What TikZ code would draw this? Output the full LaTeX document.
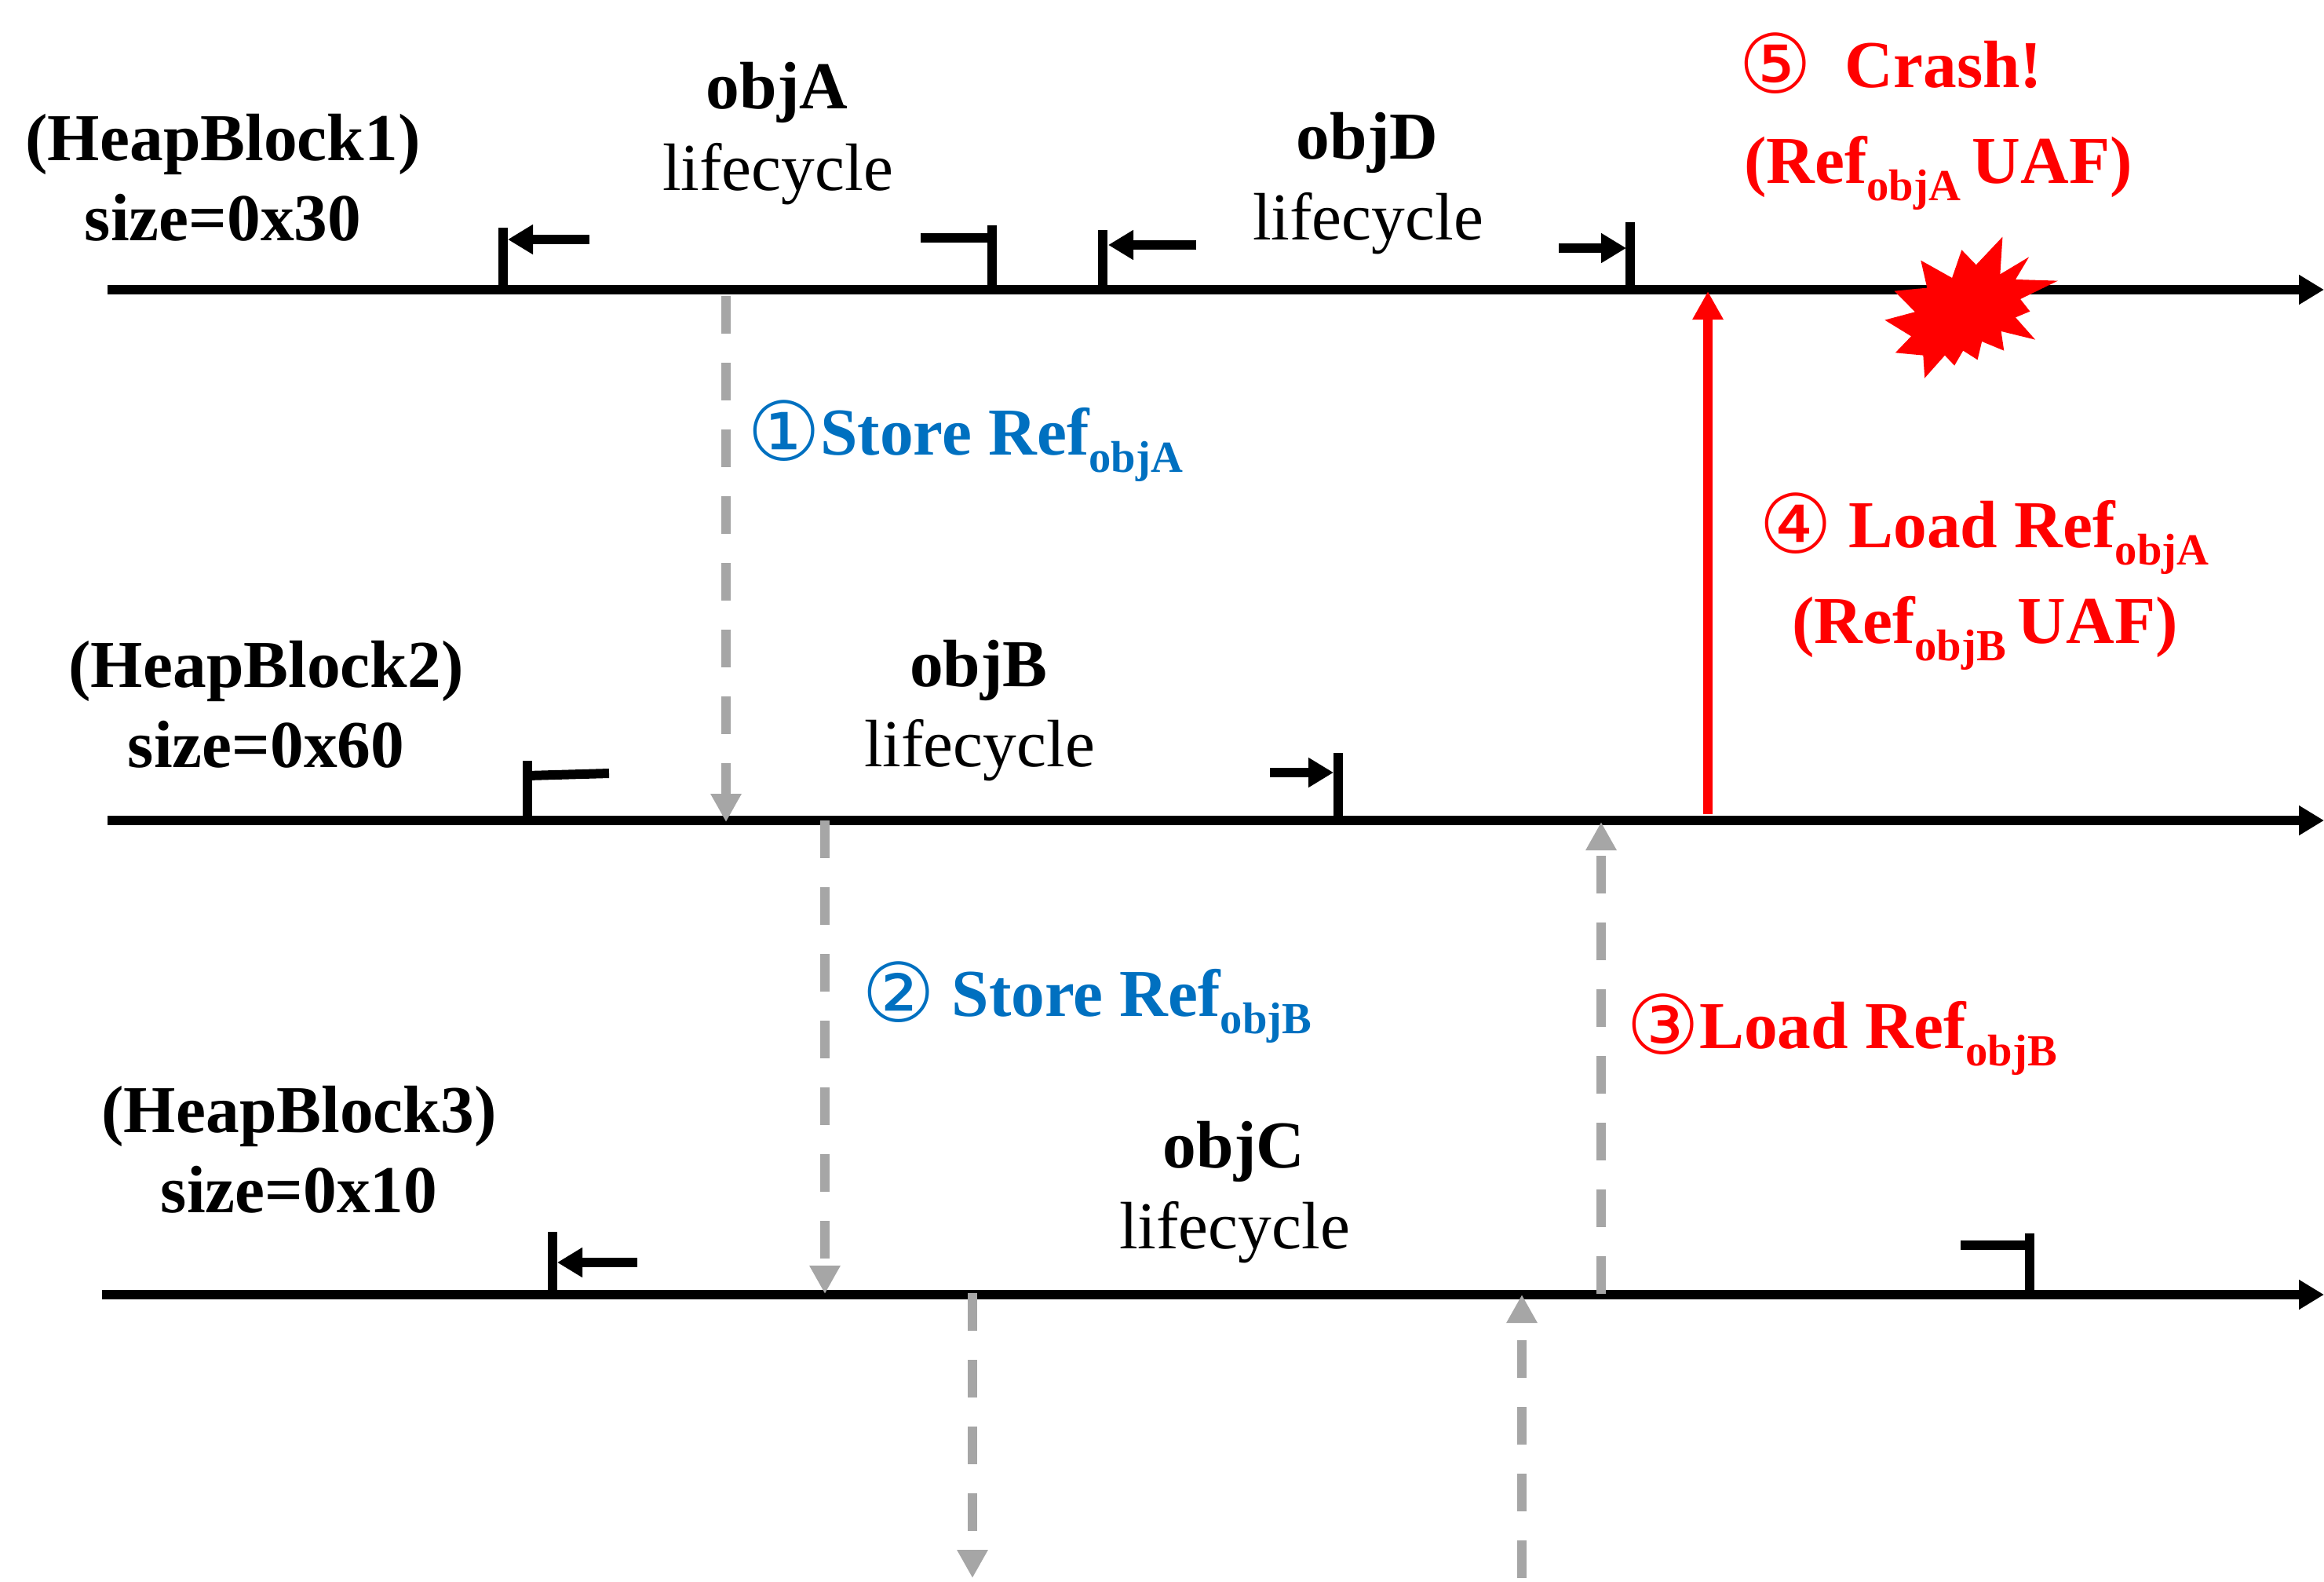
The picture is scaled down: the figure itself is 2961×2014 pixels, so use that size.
\documentclass[tikz,border=0pt]{standalone}
\usepackage{fontspec}
\setmainfont{Liberation Serif}
\newfontfamily\circfont{DejaVu Sans}
\usetikzlibrary{arrows.meta}
\definecolor{refblue}{HTML}{0070C0}
\definecolor{refred}{HTML}{FF0000}
\definecolor{refgray}{HTML}{A6A6A6}
\newcommand{\subt}[1]{\raisebox{-11pt}{\fontsize{28.3pt}{32pt}\selectfont #1}}
\newcommand{\circd}[1]{\raisebox{-3.5pt}{\circfont\fontsize{52pt}{54pt}\selectfont\mdseries #1}}
\tikzset{
  x=0.5pt,y=-0.5pt,
  txt/.style={inner sep=0pt,outer sep=0pt,font=\fontsize{42.7pt}{50pt}\selectfont},
  ctr/.style={txt,anchor=base},
  bld/.style={ctr,font=\fontsize{42.7pt}{50pt}\selectfont\bfseries},
  lft/.style={txt,anchor=base west,font=\fontsize{42.7pt}{50pt}\selectfont\bfseries},
  axisline/.style={line width=6.1pt,-{Triangle[length=16pt,width=18pt]}},
  tickline/.style={line width=6pt},
  lifearrow/.style={line width=6pt,-{Triangle[length=16pt,width=18pt]}},
  grayarrow/.style={refgray,line width=6.4pt,dash pattern=on 24pt off 18.5pt,-{Triangle[length=18pt,width=18.5pt]}},
  redarrow/.style={refred,line width=6.4pt,-{Triangle[length=18pt,width=18.5pt]}},
}
\begin{document}
\begin{tikzpicture}
\useasboundingbox (0,0) rectangle (2961,2014);
% axes
\coordinate (a1s) at (137,369); \coordinate (a1e) at (2961,369);
\coordinate (a2s) at (137,1045); \coordinate (a2e) at (2961,1045);
\coordinate (a3s) at (130,1649); \coordinate (a3e) at (2961,1649);
\draw[axisline] (a1s) -- (a1e);
\draw[axisline] (a2s) -- (a2e);
\draw[axisline] (a3s) -- (a3e);
% objA
\coordinate (t1) at (641,290); \coordinate (t1b) at (641,369);
\coordinate (t1s) at (751,305); \coordinate (t1e) at (647,305);
\draw[tickline] (t1) -- (t1b);
\draw[lifearrow] (t1s) -- (t1e);
\coordinate (t2) at (1264,287); \coordinate (t2b) at (1264,369);
\coordinate (t2s) at (1173,303); \coordinate (t2e) at (1264,303);
\draw[tickline] (t2) -- (t2b);
\draw[tickline] (t2s) -- (t2e);
% objD
\coordinate (t3) at (1405,293); \coordinate (t3b) at (1405,369);
\coordinate (t3s) at (1524,312); \coordinate (t3e) at (1412,312);
\draw[tickline] (t3) -- (t3b);
\draw[lifearrow] (t3s) -- (t3e);
\coordinate (t4) at (2077,283); \coordinate (t4b) at (2077,369);
\coordinate (t4s) at (1986,316); \coordinate (t4e) at (2072,316);
\draw[tickline] (t4) -- (t4b);
\draw[lifearrow] (t4s) -- (t4e);
% objB
\coordinate (t5) at (672,969); \coordinate (t5b) at (672,1045);
\coordinate (t5s) at (672,988); \coordinate (t5e) at (776,985);
\draw[tickline] (t5) -- (t5b);
\draw[tickline] (t5s) -- (t5e);
\coordinate (t6) at (1705,959); \coordinate (t6b) at (1705,1045);
\coordinate (t6s) at (1618,984); \coordinate (t6e) at (1699,984);
\draw[tickline] (t6) -- (t6b);
\draw[lifearrow] (t6s) -- (t6e);
% objC
\coordinate (t7) at (704,1569); \coordinate (t7b) at (704,1649);
\coordinate (t7s) at (812,1608); \coordinate (t7e) at (710,1608);
\draw[tickline] (t7) -- (t7b);
\draw[lifearrow] (t7s) -- (t7e);
\coordinate (t8) at (2586,1571); \coordinate (t8b) at (2586,1649);
\coordinate (t8s) at (2498,1586); \coordinate (t8e) at (2586,1586);
\draw[tickline] (t8) -- (t8b);
\draw[tickline] (t8s) -- (t8e);
% gray dashed arrows
\coordinate (g1s) at (925,377); \coordinate (g1e) at (925,1047);
\coordinate (g2s) at (1051,1045); \coordinate (g2e) at (1051,1648);
\coordinate (g3s) at (1239,1647); \coordinate (g3e) at (1239,2010);
\coordinate (g4s) at (1939,2010); \coordinate (g4e) at (1939,1649);
\coordinate (g5s) at (2040,1648); \coordinate (g5e) at (2040,1047);
\draw[grayarrow] (g1s) -- (g1e);
\draw[grayarrow] (g2s) -- (g2e);
\draw[grayarrow] (g3s) -- (g3e);
\draw[grayarrow] (g4s) -- (g4e);
\draw[grayarrow] (g5s) -- (g5e);
% red arrow
\coordinate (r1s) at (2176,1037); \coordinate (r1e) at (2176,371);
\draw[redarrow] (r1s) -- (r1e);
% crash star
\begin{scope}[shift={(2000,0)},xscale=0.6127,yscale=0.3333]
\fill[refred] (730,995)--(795,1062)--(815,955)--(845,1012)--(900,905)--(895,1048)--(955,982)--(927,1068)--(1015,1073)--(937,1143)--(957,1190)--(927,1213)--(968,1298)--(897,1266)--(903,1340)--(857,1305)--(848,1375)--(818,1340)--(800,1397)--(780,1358)--(738,1445)--(735,1358)--(677,1348)--(710,1285)--(655,1223)--(718,1192)--(675,1112)--(743,1100)--cycle;
\end{scope}
% labels
\node[bld] (h1) at (284,204) {(HeapBlock1)};
\node[bld] (s1) at (284,306) {size=0x30};
\node[bld] (h2) at (339,875) {(HeapBlock2)};
\node[bld] (s2) at (339,977) {size=0x60};
\node[bld] (h3) at (381,1442) {(HeapBlock3)};
\node[bld] (s3) at (381,1544) {size=0x10};
\node[bld] (oa) at (990,138) {objA};
\node[ctr] (la) at (991,242) {lifecycle};
\node[bld] (od) at (1742,202) {objD};
\node[ctr] (ld) at (1743,305) {lifecycle};
\node[bld] (ob) at (1247,874) {objB};
\node[ctr] (lb) at (1248,976) {lifecycle};
\node[bld] (oc) at (1572,1487) {objC};
\node[ctr] (lc) at (1573,1590) {lifecycle};
\node[lft,text=refblue] (n1) at (952,579) {\circd{①}Store Ref\subt{objA}};
\node[lft,text=refblue] (n2) at (1098,1294) {\circd{②} Store Ref\subt{objB}};
\node[lft,text=refred] (n3) at (2072,1335) {\circd{③}Load Ref\subt{objB}};
\node[lft,text=refred] (n4) at (2241,697) {\circd{④} Load Ref\subt{objA}};
\node[lft,text=refred] (n4b) at (2283,819) {(Ref\subt{objB}\hspace{7.5pt}UAF)};
\node[lft,text=refred] (n5) at (2215,111) {\circd{⑤}\hspace{0.5em}Crash!};
\node[lft,text=refred] (n5b) at (2222,233) {(Ref\subt{objA}\hspace{7.5pt}UAF)};
\end{tikzpicture}
\end{document}
